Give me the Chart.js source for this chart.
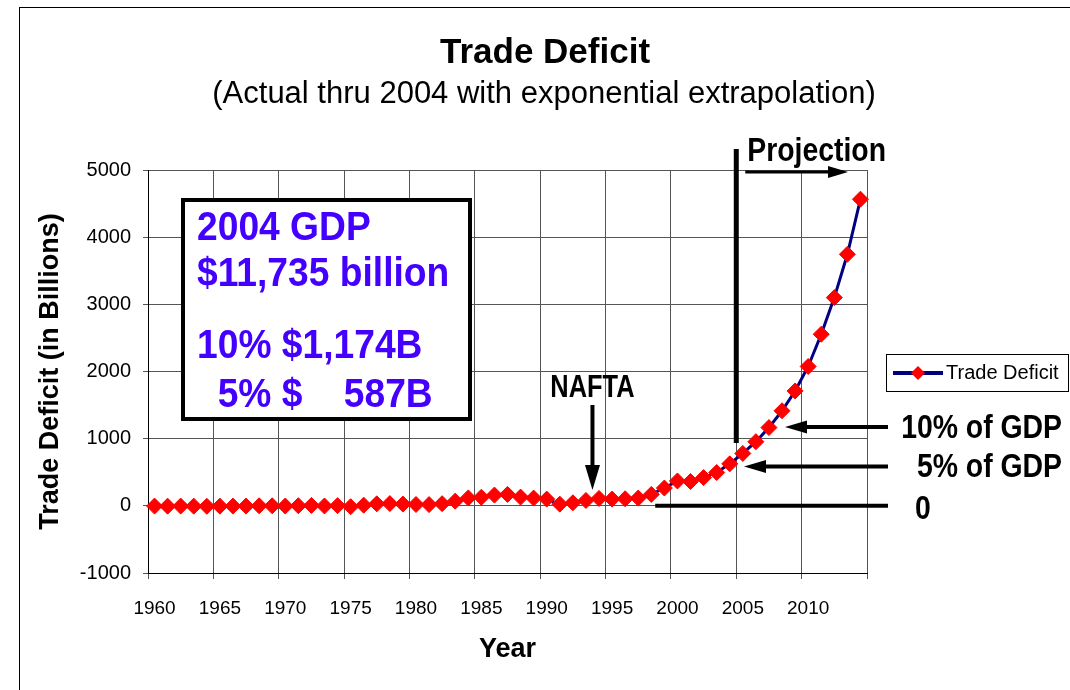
<!DOCTYPE html>
<html>
<head>
<meta charset="utf-8">
<title>Trade Deficit</title>
<script src="https://cdn.jsdelivr.net/npm/chart.js@4.4.1/dist/chart.umd.min.js"></script>
<style>
    html, body { margin: 0; padding: 0; background: #fff; overflow: hidden; }
    #wrap { position: relative; width: 1070px; height: 690px; }
</style>
</head>
<body>
<div id="wrap"><canvas id="deficitChart"></canvas></div>
<script>
// years on the category axis
const years = ['1960', '1961', '1962', '1963', '1964', '1965', '1966', '1967', '1968', '1969',
    '1970', '1971', '1972', '1973', '1974', '1975', '1976', '1977', '1978', '1979',
    '1980', '1981', '1982', '1983', '1984', '1985', '1986', '1987', '1988', '1989',
    '1990', '1991', '1992', '1993', '1994', '1995', '1996', '1997', '1998', '1999',
    '2000', '2001', '2002', '2003', '2004', '2005', '2006', '2007', '2008', '2009',
    '2010', '2011', '2012', '2013', '2014'];

// trade deficit, billions (actual thru 2004, projection after)
const deficit = [-4, -5, -4, -5, -7, -5, -4, -4, 1, 1,
    -3, 2, 6, -2, 3, -13, 10, 30, 33, 26,
    20, 18, 32, 70, 118, 128, 160, 170, 130, 115,
    100, 25, 45, 80, 110, 100, 105, 115, 170, 265,
    370, 362, 420, 496, 625, 780, 955, 1165, 1415, 1710,
    2075, 2555, 3100, 3745, 4565];

const labeledYears = ['1960', '1965', '1970', '1975', '1980', '1985', '1990', '1995', '2000', '2005', '2010'];
const yTicks = [-1000, 0, 1000, 2000, 3000, 4000, 5000];

// GDP reference lines
const gdp10 = 1174;
const gdp5 = 587;
const naftaYear = '1994';
const projectionYear = '2005';
const zeroLineFrom = 1998.3;

const boxLines = ['2004 GDP', '$11,735 billion', '', '10% $1,174B', '  5% $    587B'];

const SANS = '"Liberation Sans", Arial, sans-serif';

function narrowText(ctx, text, x, y, size, sx, align, color) {
    ctx.save();
    ctx.translate(x, y);
    ctx.scale(sx, 1);
    ctx.font = 'bold ' + size + 'px ' + SANS;
    ctx.textAlign = align || 'left';
    ctx.textBaseline = 'alphabetic';
    ctx.fillStyle = color || '#000';
    ctx.fillText(text, 0, 0);
    ctx.restore();
}

function arrow(ctx, x1, y1, x2, y2, lw, headLen, headW) {
    const ang = Math.atan2(y2 - y1, x2 - x1);
    const bx = x2 - Math.cos(ang) * headLen;
    const by = y2 - Math.sin(ang) * headLen;
    ctx.save();
    ctx.strokeStyle = '#000';
    ctx.fillStyle = '#000';
    ctx.lineWidth = lw;
    ctx.beginPath();
    ctx.moveTo(x1, y1);
    ctx.lineTo(bx, by);
    ctx.stroke();
    ctx.beginPath();
    ctx.moveTo(x2, y2);
    ctx.lineTo(bx + Math.sin(ang) * headW / 2, by - Math.cos(ang) * headW / 2);
    ctx.lineTo(bx - Math.sin(ang) * headW / 2, by + Math.cos(ang) * headW / 2);
    ctx.closePath();
    ctx.fill();
    ctx.restore();
}

function line(ctx, x1, y1, x2, y2, lw) {
    ctx.save();
    ctx.strokeStyle = '#000';
    ctx.lineWidth = lw;
    ctx.beginPath();
    ctx.moveTo(x1, y1);
    ctx.lineTo(x2, y2);
    ctx.stroke();
    ctx.restore();
}

const decorations = {
    id: 'decorations',
    beforeDraw(chart) {
        const ctx = chart.ctx;
        ctx.save();
        ctx.fillStyle = '#fff';
        ctx.fillRect(0, 0, chart.width, chart.height);
        ctx.strokeStyle = '#000';
        ctx.lineWidth = 1;
        ctx.strokeRect(19.5, 7.5, 1200, 800);
        ctx.restore();
    },
    afterDraw(chart) {
        const ctx = chart.ctx;
        const xs = chart.scales.x;
        const ys = chart.scales.y;
        const step = xs.getPixelForValue(1) - xs.getPixelForValue(0);

        // titles
        ctx.save();
        ctx.fillStyle = '#000';
        ctx.textAlign = 'center';
        ctx.font = 'bold 35px ' + SANS;
        ctx.fillText('Trade Deficit', 545, 63);
        ctx.font = '31px ' + SANS;
        ctx.fillText('(Actual thru 2004 with exponential extrapolation)', 544, 103);
        ctx.restore();

        // GDP text box
        ctx.save();
        ctx.fillStyle = '#fff';
        ctx.fillRect(183, 200, 287, 219);
        ctx.strokeStyle = '#000';
        ctx.lineWidth = 4;
        ctx.strokeRect(183, 200, 287, 219);
        ctx.restore();
        const baselines = [240, 286, 322, 358, 407];
        boxLines.forEach((t, i) => {
            if (t) narrowText(ctx, t, 197, baselines[i], 40, 0.93, 'left', '#4400ff');
        });

        // NAFTA
        const nx = xs.getPixelForValue(years.indexOf(naftaYear)) - step / 2;
        narrowText(ctx, 'NAFTA', nx, 397, 31, 0.82, 'center');
        arrow(ctx, nx, 405, nx, 490, 4, 25, 15);

        // projection marker
        const px = xs.getPixelForValue(years.indexOf(projectionYear)) - step / 2;
        line(ctx, px, 149, px, 443, 5);
        narrowText(ctx, 'Projection', px + 11, 161, 33, 0.86, 'left');
        arrow(ctx, px + 9, 172, 848, 172, 3, 20, 12);

        // GDP arrows on the right
        const y10 = ys.getPixelForValue(gdp10);
        const y5 = ys.getPixelForValue(gdp5);
        const y0 = ys.getPixelForValue(0);
        arrow(ctx, 888, y10, 785, y10, 4, 22, 13);
        arrow(ctx, 888, y5, 744, y5, 4, 22, 13);
        const zx = xs.getPixelForValue(zeroLineFrom - 1960);
        line(ctx, zx, y0, 888, y0, 4);
        narrowText(ctx, '10% of GDP', 1062, y10 + 11, 33, 0.86, 'right');
        narrowText(ctx, '5% of GDP', 1062, y5 + 11, 33, 0.86, 'right');
        narrowText(ctx, '0', 915, y0 + 13, 33, 0.86, 'left');

        // legend
        ctx.save();
        ctx.fillStyle = '#fff';
        ctx.fillRect(886, 354, 182, 37);
        ctx.strokeStyle = '#000';
        ctx.lineWidth = 1;
        ctx.strokeRect(886.5, 354.5, 182, 37);
        ctx.strokeStyle = '#000080';
        ctx.lineWidth = 4;
        ctx.beginPath();
        ctx.moveTo(893, 373);
        ctx.lineTo(943, 373);
        ctx.stroke();
        ctx.fillStyle = '#ff0000';
        ctx.beginPath();
        ctx.moveTo(918, 366);
        ctx.lineTo(925, 373);
        ctx.lineTo(918, 380);
        ctx.lineTo(911, 373);
        ctx.closePath();
        ctx.fill();
        ctx.fillStyle = '#000';
        ctx.font = '20px ' + SANS;
        ctx.textBaseline = 'middle';
        ctx.fillText('Trade Deficit', 946, 373);
        ctx.restore();
    }
};

document.addEventListener('DOMContentLoaded', () => {
    const ctx = document.getElementById('deficitChart').getContext('2d');
    new Chart(ctx, {
        type: 'line',
        data: {
            labels: years,
            datasets: [{
                label: 'Trade Deficit',
                data: deficit,
                borderColor: '#000080',
                borderWidth: 3,
                tension: 0,
                pointStyle: 'rectRot',
                pointRadius: 8,
                pointBackgroundColor: '#ff0000',
                pointBorderColor: '#ff0000',
                pointBorderWidth: 1
            }]
        },
        options: {
            responsive: true,
            maintainAspectRatio: false,
            animation: false,
            layout: { padding: { left: 0, right: 203, top: 170, bottom: 0 } },
            plugins: {
                legend: { display: false },
                tooltip: { enabled: false }
            },
            scales: {
                x: {
                    type: 'category',
                    offset: true,
                    afterFit: (s) => { s.height = 117; },
                    grid: {
                        offset: true,
                        tickLength: 6,
                        color: (c) => (c.index === undefined || c.index % 5 === 0) ? '#555' : 'rgba(0,0,0,0)'
                    },
                    border: { color: '#000', width: 1 },
                    ticks: {
                        autoSkip: false,
                        maxRotation: 0,
                        padding: 18,
                        color: '#000',
                        font: { family: SANS, size: 19 },
                        callback: function (v) {
                            const y = this.getLabelForValue(v);
                            return labeledYears.includes(y) ? y : '';
                        }
                    },
                    title: {
                        display: true,
                        text: 'Year',
                        color: '#000',
                        font: { family: SANS, size: 27, weight: 'bold' },
                        padding: { top: 0, bottom: 24 }
                    }
                },
                y: {
                    min: yTicks[0],
                    max: yTicks[yTicks.length - 1],
                    afterFit: (s) => { s.width = 148; },
                    afterBuildTicks: (s) => { s.ticks = yTicks.map(v => ({ value: v })); },
                    grid: { color: '#555', tickLength: 5 },
                    border: { color: '#000', width: 1 },
                    ticks: {
                        padding: 12,
                        color: '#000',
                        font: { family: SANS, size: 20 },
                        callback: (v) => String(v)
                    },
                    title: {
                        display: true,
                        text: 'Trade Deficit (in Billions)',
                        color: '#000',
                        font: { family: SANS, size: 27, weight: 'bold' },
                        padding: { top: 34, bottom: 0 }
                    }
                }
            }
        },
        plugins: [decorations]
    });
});
</script>
</body>
</html>
